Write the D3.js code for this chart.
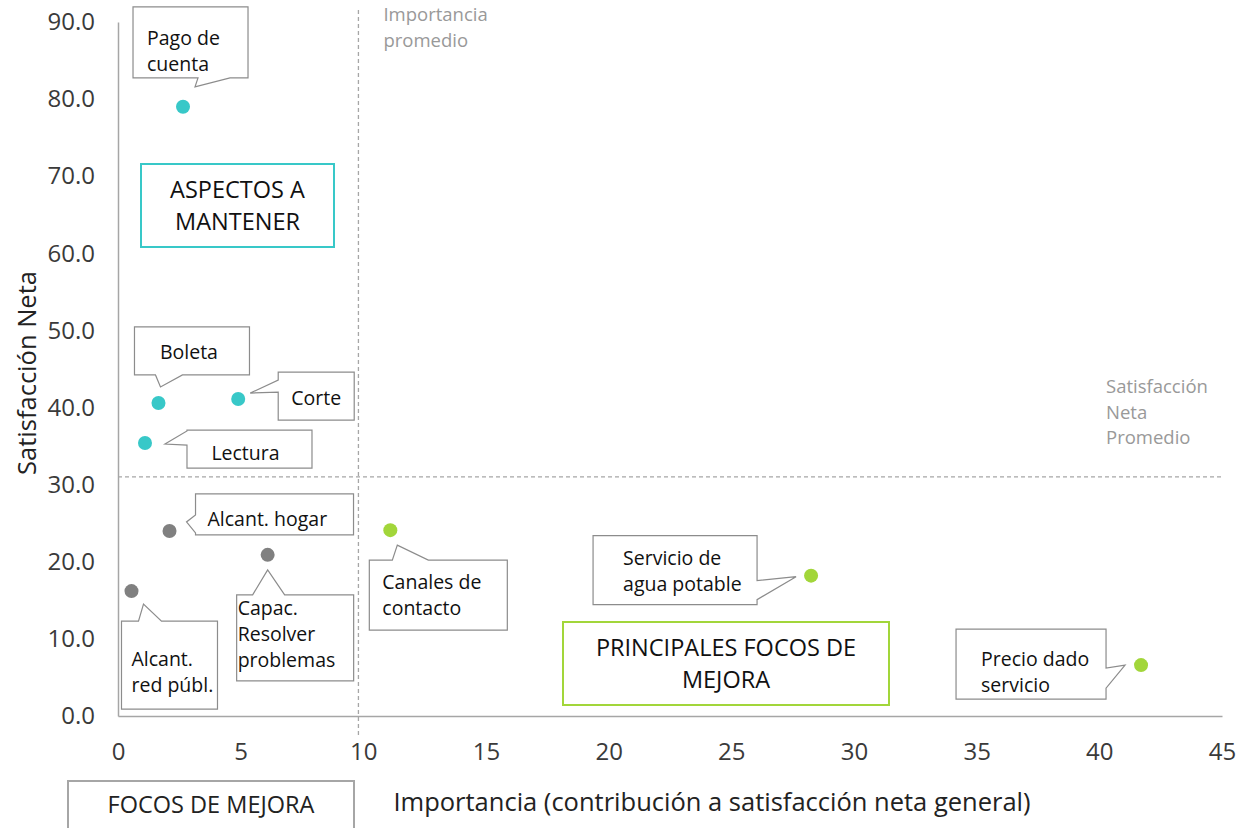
<!DOCTYPE html>
<html>
<head>
<meta charset="utf-8">
<script src="https://cdn.jsdelivr.net/npm/d3@7"></script>
<style>
  body { margin: 0; background: #fff; }
  svg { font-family: "Open Sans", sans-serif; }
</style>
</head>
<body>
<svg id="chart" width="1240" height="828"></svg>
<script>
// data
const labels = [
  ["Pago de", "cuenta"], ["Boleta"], ["Corte"], ["Lectura"],
  ["Alcant. hogar"], ["Capac.", "Resolver", "problemas"], ["Alcant.", "red públ."],
  ["Canales de", "contacto"], ["Servicio de", "agua potable"], ["Precio dado", "servicio"]
];
const importancia = [2.65, 1.65, 4.9, 1.1, 2.1, 6.1, 0.55, 11.1, 28.25, 41.7];
const satisfaccion = [79.0, 40.6, 41.1, 35.4, 24.0, 20.9, 16.2, 24.1, 18.2, 6.6];
const grupo = ["mantener", "mantener", "mantener", "mantener",
  "focos", "focos", "focos", "principales", "principales", "principales"];
const xTicks = [0, 5, 10, 15, 20, 25, 30, 35, 40, 45];
const yTicks = [0, 10, 20, 30, 40, 50, 60, 70, 80, 90];
const importanciaPromedio = 9.8;
const satisfaccionPromedio = 31.0;

const colors = { mantener: "#38c8c8", focos: "#808080", principales: "#a2d63a" };

// callout layout (offsets from the point, in px); text = [dx, first line centre from box top]
const callouts = [
  { box: [-50, -100, 115, 71], side: "bottom", w: [65, 97], tip: [12, -20], text: [14, 31] },
  { box: [-24, -76, 115, 48], side: "bottom", w: [21, 48], tip: [2, -16], text: [-3, 25], center: true },
  { box: [40, -27, 76, 48], side: "left", w: [8, 20], tip: [12, -6], text: [0, 26], center: true },
  { box: [42, -13, 125, 38], side: "left", w: [1, 15], tip: [20, 1], text: [-4, 23], center: true },
  { box: [26, -37, 158, 41], side: "left", w: [21, 39], tip: [17, -9], text: [12, 25] },
  { box: [-31, 40, 117, 86], side: "top", w: [16, 48], tip: [0, 15], text: [1, 13] },
  { box: [-10, 30, 96, 88], side: "top", w: [17, 40], tip: [12, 13], text: [10, 38] },
  { box: [-21, 30, 138, 70], side: "top", w: [23, 59], tip: [7, 15], text: [13, 22] },
  { box: [-218, -40, 164, 69], side: "right", w: [45, 64], tip: [-15, 1], text: [30, 23] },
  { box: [-185, -36, 150, 70], side: "right", w: [39, 59], tip: [-16, 0], text: [25, 30] }
];

const svg = d3.select("#chart");
const x = d3.scaleLinear().domain([0, 45]).range([118, 1222]);
const y = d3.scaleLinear().domain([0, 90]).range([716, 22]);

// axes
const xAxis = svg.append("g")
  .attr("transform", `translate(0,${y(0)})`)
  .call(d3.axisBottom(x).tickValues(xTicks).tickSize(0).tickPadding(27).tickFormat(d3.format("d")));
const yAxis = svg.append("g")
  .attr("transform", `translate(${x(0)},0)`)
  .call(d3.axisLeft(y).tickValues(yTicks).tickSize(0).tickPadding(23).tickFormat(d3.format(".1f")));
[xAxis, yAxis].forEach(a => {
  a.select(".domain").attr("stroke", "#a6a6a6").attr("stroke-width", 1.5);
  a.selectAll("text").attr("font-size", 24).attr("fill", "#3a3a3a").attr("font-family", "'Open Sans', sans-serif");
});

// reference lines
svg.append("line")
  .attr("x1", x(importanciaPromedio)).attr("x2", x(importanciaPromedio))
  .attr("y1", 10).attr("y2", y(0) + 22)
  .attr("stroke", "#a6a6a6").attr("stroke-width", 1.3).attr("stroke-dasharray", "4,3");
svg.append("line")
  .attr("x1", x(0)).attr("x2", x(45))
  .attr("y1", y(satisfaccionPromedio)).attr("y2", y(satisfaccionPromedio))
  .attr("stroke", "#a6a6a6").attr("stroke-width", 1.3).attr("stroke-dasharray", "4,3");

function lines(g, arr, x0, y0, lh, anchor) {
  arr.forEach((t, i) => g.append("text").attr("x", x0).attr("y", y0 + i * lh)
    .attr("dy", "0.35em").attr("text-anchor", anchor || "start").text(t));
}

const refLab = svg.append("g").attr("fill", "#999").attr("font-size", 18.5);
lines(refLab, ["Importancia", "promedio"], x(importanciaPromedio) + 25, 15, 26);
lines(refLab, ["Satisfacción", "Neta", "Promedio"], 1106, 387, 25.5);

// axis titles
svg.append("text").attr("x", 712).attr("y", 802).attr("dy", "0.35em").attr("text-anchor", "middle")
  .attr("font-size", 25.5).attr("fill", "#222")
  .text("Importancia (contribución a satisfacción neta general)");
svg.append("text").attr("transform", "translate(27,373) rotate(-90)").attr("dy", "0.35em")
  .attr("text-anchor", "middle")
  .attr("font-size", 25.5).attr("fill", "#222").text("Satisfacción Neta");

// quadrant boxes
function quadBox(x0, y0, w, h, stroke, text, firstLine) {
  svg.append("rect").attr("x", x0).attr("y", y0).attr("width", w).attr("height", h)
    .attr("fill", "#fff").attr("stroke", stroke).attr("stroke-width", 2);
  const g = svg.append("g").attr("font-size", 23.5).attr("fill", "#111");
  lines(g, text, x0 + w / 2, firstLine, 32, "middle");
}
quadBox(141, 164, 193, 83, colors.mantener, ["ASPECTOS A", "MANTENER"], 190);
quadBox(563, 622, 326, 83, colors.principales, ["PRINCIPALES FOCOS DE", "MEJORA"], 648);
svg.append("rect").attr("x", 68).attr("y", 781).attr("width", 286).attr("height", 60)
  .attr("fill", "#fff").attr("stroke", "#a6a6a6").attr("stroke-width", 2);
svg.append("text").attr("x", 211).attr("y", 805).attr("dy", "0.35em").attr("text-anchor", "middle")
  .attr("font-size", 23.5).attr("fill", "#222").text("FOCOS DE MEJORA");

// callouts
const data = labels.map((l, i) => ({ label: l, x: importancia[i], y: satisfaccion[i], g: grupo[i], c: callouts[i] }));

data.forEach(d => {
  const px = x(d.x), py = y(d.y), c = d.c;
  const [bx, by, w, h] = c.box;
  const x0 = px + bx, y0 = py + by, x1 = x0 + w, y1 = y0 + h;
  const tx = px + c.tip[0], ty = py + c.tip[1];
  const [a, b] = c.w;
  let pts;
  if (c.side === "bottom") pts = [[x0, y0], [x1, y0], [x1, y1], [x0 + b, y1], [tx, ty], [x0 + a, y1], [x0, y1]];
  else if (c.side === "top") pts = [[x0, y0], [x0 + a, y0], [tx, ty], [x0 + b, y0], [x1, y0], [x1, y1], [x0, y1]];
  else if (c.side === "left") pts = [[x0, y0], [x1, y0], [x1, y1], [x0, y1], [x0, y0 + b], [tx, ty], [x0, y0 + a]];
  else pts = [[x0, y0], [x1, y0], [x1, y0 + a], [tx, ty], [x1, y0 + b], [x1, y1], [x0, y1]];
  svg.append("path").attr("d", d3.line()(pts) + "Z")
    .attr("fill", "#fff").attr("stroke", "#8c8c8c").attr("stroke-width", 1.2);
  const g = svg.append("g").attr("font-size", 19.5).attr("fill", "#111");
  const cy = y0 + c.text[1];
  if (c.center) lines(g, d.label, x0 + w / 2 + c.text[0], cy, 26, "middle");
  else lines(g, d.label, x0 + c.text[0], cy, 26);
});

// points
svg.append("g").selectAll("circle").data(data).join("circle")
  .attr("cx", d => x(d.x)).attr("cy", d => y(d.y)).attr("r", 7)
  .attr("fill", d => colors[d.g]);
</script>
</body>
</html>
